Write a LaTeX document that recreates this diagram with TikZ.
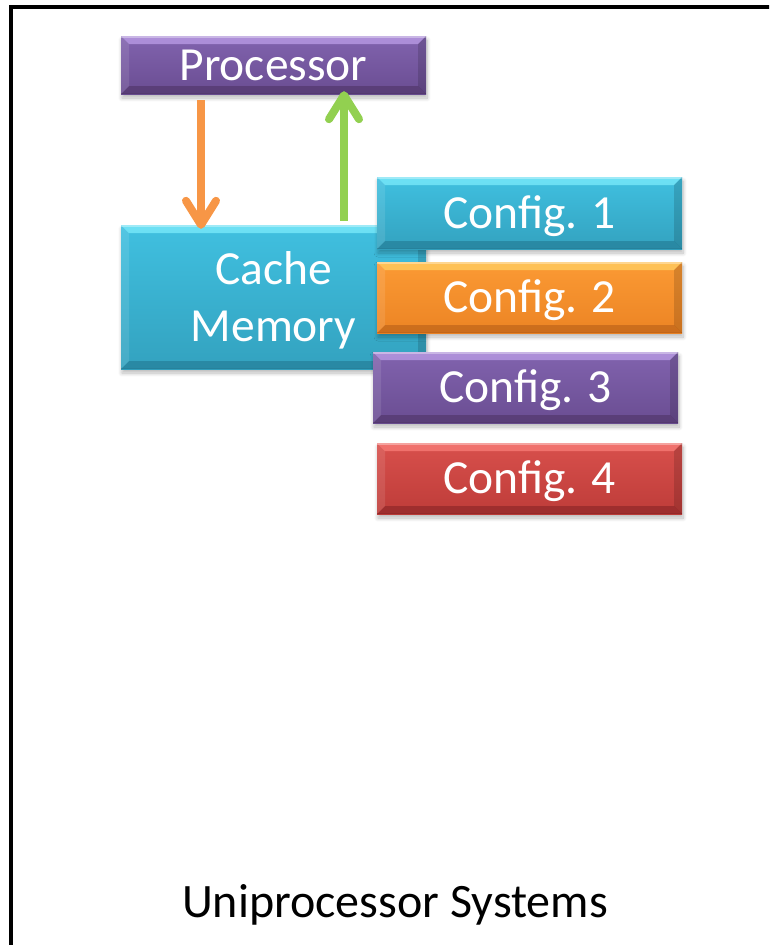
\documentclass[tikz,border=0pt]{standalone}
\usepackage{fontspec}
\setmainfont{Carlito}
\usetikzlibrary{arrows.meta,shadows.blur,calc}

% palette: gradient top, gradient bottom, top bevel, bottom bevel
\definecolor{pTop}{HTML}{8163AE}\definecolor{pBot}{HTML}{6A4D92}
\definecolor{pLight}{HTML}{B597E0}\definecolor{pDark}{HTML}{54396F}
\definecolor{cTop}{HTML}{40C0E0}\definecolor{cBot}{HTML}{33A2BF}
\definecolor{cLight}{HTML}{75E6F8}\definecolor{cDark}{HTML}{26819B}
\definecolor{oTop}{HTML}{FB9A34}\definecolor{oBot}{HTML}{EC8424}
\definecolor{oLight}{HTML}{FFC95C}\definecolor{oDark}{HTML}{C2661A}
\definecolor{rTop}{HTML}{D8504C}\definecolor{rBot}{HTML}{BE3C39}
\definecolor{rLight}{HTML}{F57873}\definecolor{rDark}{HTML}{93292A}
\definecolor{arrowOrange}{HTML}{F79646}
\definecolor{arrowGreen}{HTML}{92D050}

\tikzset{
  x=1pt, y=1pt,
  bevelbox/.style n args={4}{
    draw=none, inner sep=0pt, text=white, align=center,
    font=\fontsize{47.5}{57}\selectfont,
    top color=#1, bottom color=#2,
    blur shadow={shadow xshift=1pt, shadow yshift=-4pt, shadow opacity=28, shadow blur steps=8, shadow blur radius=4pt},
    path picture={
      \coordinate (nw) at (path picture bounding box.north west);
      \coordinate (ne) at (path picture bounding box.north east);
      \coordinate (sw) at (path picture bounding box.south west);
      \coordinate (se) at (path picture bounding box.south east);
      % top bevel
      \fill[#3, opacity=.85] (nw) -- (ne) -- ($(ne)+(-8,-8)$) -- ($(nw)+(8,-8)$) -- cycle;
      \fill[white, opacity=.35] (nw) rectangle ($(ne)+(0,-2)$);
      % bottom bevel
      \fill[#4, opacity=.75] (sw) -- (se) -- ($(se)+(-8,8)$) -- ($(sw)+(8,8)$) -- cycle;
      \fill[#4] (sw) rectangle ($(se)+(0,1.5)$);
      % side bevels
      \fill[white, opacity=.10] (nw) -- ($(nw)+(8,-8)$) -- ($(sw)+(8,8)$) -- (sw) -- cycle;
      \fill[black, opacity=.14] (ne) -- ($(ne)+(-8,-8)$) -- ($(se)+(-8,8)$) -- (se) -- cycle;
    }
  },
  purplebox/.style={bevelbox={pTop}{pBot}{pLight}{pDark}},
  cyanbox/.style={bevelbox={cTop}{cBot}{cLight}{cDark}},
  orangebox/.style={bevelbox={oTop}{oBot}{oLight}{oDark}},
  redbox/.style={bevelbox={rTop}{rBot}{rLight}{rDark}},
  onelinebox/.style={minimum width=305, text height=30.5pt, text depth=0pt},
  flowarrow/.style={line width=8pt, -{Straight Barb[length=24pt, width=30pt, round]}},
  frameline/.style={line width=4pt, draw=black},
  titletext/.style={font=\fontsize{48}{56}\selectfont, text=black, anchor=base}
}

\begin{document}
\begin{tikzpicture}
  \useasboundingbox (0,0) rectangle (769,-945);
  \clip (0,0) rectangle (769,-945);

  % outer frame, open towards the right and bottom edges
  \draw[frameline] (11,-990) -- (11,-7) -- (820,-7);

  % processor and cache
  \node[purplebox, onelinebox, minimum height=58] (proc) at (273.5,-65) {Processor};
  \node[cyanbox, minimum width=305, minimum height=144, text height=88pt, text depth=0pt] (cache) at (273.5,-297) {Cache\\Memory};

  % read / write arrows between processor and cache
  \draw[flowarrow, arrowOrange] ([xshift=-72.5pt, yshift=-6pt]proc.south) -- ([xshift=-72.5pt, yshift=-4pt]cache.north);
  \draw[flowarrow, arrowGreen] ([xshift=70.5pt, yshift=4pt]cache.north) -- ([xshift=70.5pt, yshift=3pt]proc.south);

  % configurations
  \node[cyanbox, onelinebox, minimum height=72] (cfg1) at (529.5,-213) {Config. 1};
  \node[orangebox, onelinebox, minimum height=71] (cfg2) at (529.5,-297.5) {Config. 2};
  \node[purplebox, onelinebox, minimum height=71] (cfg3) at (525.5,-387.5) {Config. 3};
  \node[redbox, onelinebox, minimum height=71] (cfg4) at (529.5,-478.5) {Config. 4};

  % caption
  \node[titletext] (title) at (395,-917) {Uniprocessor Systems};
\end{tikzpicture}
\end{document}
